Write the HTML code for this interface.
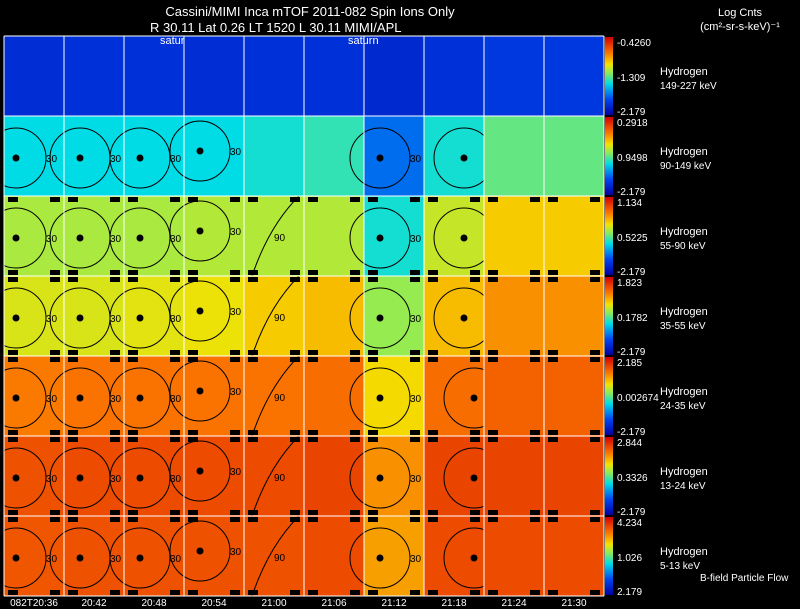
<!DOCTYPE html>
<html><head><meta charset="utf-8"><style>
html,body{margin:0;padding:0;background:#000;}
svg{display:block;font-family:"Liberation Sans",sans-serif;}
</style></head><body>
<svg id="c" width="800" height="609" xmlns="http://www.w3.org/2000/svg">
<text x="310" y="16" fill="#fff" font-size="13" text-anchor="middle">Cassini/MIMI Inca mTOF  2011-082   Spin   Ions Only</text>
<text x="150" y="32" fill="#fff" font-size="13">R          30.11 Lat 0.26 LT 1520 L          30.11   MIMI/APL</text>
<text x="740" y="16" fill="#fff" font-size="11" text-anchor="middle">Log Cnts</text>
<text x="740" y="30" fill="#fff" font-size="11" text-anchor="middle">(cm²-sr-s-keV)⁻¹</text>
<text x="700" y="581" fill="#fff" font-size="10">B-field Particle Flow</text>
</svg>
<script>
const energies=["149-227 keV","90-149 keV","55-90 keV","35-55 keV","24-35 keV","13-24 keV","5-13 keV"];
const maxLabels=["-0.4260","0.2918","1.134","1.823","2.185","2.844","4.234"];
const midLabels=["-1.309","0.9498","0.5225","0.1782","0.002674","0.3326","1.026"];
const minLabels=["-2.179","-2.179","-2.179","-2.179","-2.179","-2.179","2.179"];
const times=["082T20:36","20:42","20:48","20:54","21:00","21:06","21:12","21:18","21:24","21:30"];
const level0=[0.13,0.14,0.14,0.13,0.14,0.14,0.12,0.14,0.16,0.16];
const level1=[0.4,0.4,0.4,0.4,0.42,0.45,0.25,0.42,0.5,0.5];
const level2=[0.57,0.57,0.57,0.58,0.58,0.58,0.42,0.6,0.68,0.68];
const level3=[0.62,0.62,0.63,0.64,0.68,0.7,0.55,0.7,0.76,0.76];
const level4=[0.79,0.8,0.8,0.8,0.8,0.81,0.66,0.81,0.83,0.83];
const level5=[0.86,0.87,0.87,0.87,0.87,0.88,0.76,0.88,0.88,0.88];
const level6=[0.85,0.86,0.86,0.86,0.86,0.87,0.74,0.87,0.87,0.87];
const levels=[level0,level1,level2,level3,level4,level5,level6];
const contourCols=[0,1,2,3,6,7];
const NS="http://www.w3.org/2000/svg";
const svg=document.getElementById('c');
const X0=4,PW=60,Y0=36,PH=80;
function xs(c){return X0+c*PW;}
function ys(r){return Y0+r*PH;}
function cmap(v){
  const stops=[[0,[0,0,160]],[0.2,[0,70,240]],[0.4,[0,220,230]],[0.55,[150,235,80]],[0.65,[245,225,0]],[0.8,[250,115,0]],[1,[210,0,0]]];
  for(let i=1;i<stops.length;i++){if(v<=stops[i][0]){const a=stops[i-1],b=stops[i];const t=(v-a[0])/(b[0]-a[0]);
    return 'rgb('+a[1].map((x,k)=>Math.round(x+(b[1][k]-x)*t)).join(',')+')';}}
  return 'rgb(210,0,0)';
}
function mk(tag,attrs){const e=document.createElementNS(NS,tag);for(const k in attrs)e.setAttribute(k,attrs[k]);svg.appendChild(e);return e;}
const defs=mk('defs',{});
const g=document.createElementNS(NS,'linearGradient');g.setAttribute('id','cb');g.setAttribute('x1','0');g.setAttribute('y1','1');g.setAttribute('x2','0');g.setAttribute('y2','0');
[0,0.2,0.4,0.55,0.65,0.8,1].forEach(o=>{const s=document.createElementNS(NS,'stop');s.setAttribute('offset',o);s.setAttribute('stop-color',cmap(o));g.appendChild(s);});
defs.appendChild(g);
for(let r=0;r<levels.length;r++){
  for(let c=0;c<levels[r].length;c++){
    const p=mk('rect',{x:xs(c),y:ys(r),width:PW,height:PH,fill:cmap(levels[r][c])});
    
    
    if(r>=2){
      mk('rect',{x:xs(c)+4,y:ys(r)+1,width:10,height:5,fill:'#000'});
      mk('rect',{x:xs(c)+46,y:ys(r)+1,width:10,height:5,fill:'#000'});
      mk('rect',{x:xs(c)+4,y:ys(r)+PH-6,width:10,height:5,fill:'#000'});
      mk('rect',{x:xs(c)+46,y:ys(r)+PH-6,width:10,height:5,fill:'#000'});
    }
    if(r>=1&&contourCols.includes(c)){
      const cx=xs(c)+(c===0?12:c===7?(r<4?40:50):16), cy=ys(r)+(c===3?35:42);
      mk('circle',{cx:cx,cy:cy,r:30,fill:'none',stroke:'#000','stroke-width':1});
      mk('circle',{cx:cx,cy:cy,r:3.5,fill:'#000'});
      const t=mk('text',{x:cx+30,y:cy+4,'font-size':10,fill:'#000'});t.textContent='30';
    }
    if(r>=2&&c===4){
      mk('path',{d:'M'+(xs(c)+8)+','+(ys(r)+PH)+' Q'+(xs(c)+25)+','+(ys(r)+30)+' '+(xs(c)+55)+','+ys(r),fill:'none',stroke:'#000'});
      const t=mk('text',{x:xs(c)+30,y:ys(r)+45,'font-size':10,fill:'#000'});t.textContent='90';
    }
  }
  const cb=mk('rect',{x:605,y:ys(r)+1,width:8,height:PH-2,fill:'url(#cb)'});
  
  
  const t1=mk('text',{x:617,y:ys(r)+10,'font-size':10,fill:'#fff'});t1.textContent=maxLabels[r];
  const t2=mk('text',{x:617,y:ys(r)+45,'font-size':10,fill:'#fff'});t2.textContent=midLabels[r];
  const t3=mk('text',{x:617,y:ys(r)+PH-1,'font-size':10,fill:'#fff'});t3.textContent=minLabels[r];
  const h=mk('text',{x:660,y:ys(r)+39,'font-size':11,fill:'#fff'});h.textContent='Hydrogen';
  
  
  const e=mk('text',{x:660,y:ys(r)+53,'font-size':10,fill:'#fff'});e.textContent=energies[r];
  
  
}
for(let c=0;c<=times.length;c++){mk('line',{x1:xs(c),y1:Y0,x2:xs(c),y2:ys(levels.length),stroke:'#fff','stroke-width':1});}
for(let r=0;r<=levels.length;r++){mk('line',{x1:X0,y1:ys(r),x2:xs(times.length),y2:ys(r),stroke:'#fff','stroke-width':1});}
times.forEach((t,c)=>{const e=mk('text',{x:xs(c)+30,y:606,'font-size':10,fill:'#fff','text-anchor':'middle'});e.textContent=t;
  
  });
[[160,'satur'],[348,'saturn']].forEach(([x,s])=>{const e=mk('text',{x:x,y:44,'font-size':11,fill:'#fff'});e.textContent=s;});
</script>
</body></html>
